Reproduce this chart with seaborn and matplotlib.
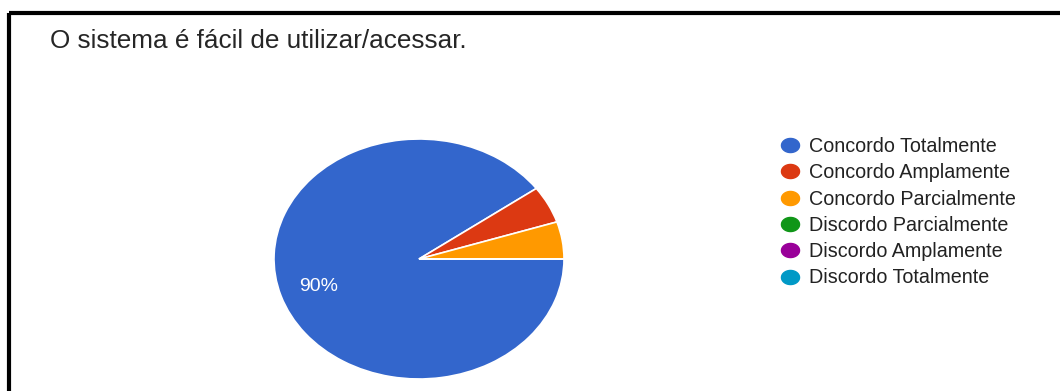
import numpy as np
import matplotlib
matplotlib.use("Agg")
import matplotlib.pyplot as plt
from matplotlib.lines import Line2D
from matplotlib.path import Path
import seaborn as sns

# Survey answers for "O sistema é fácil de utilizar/acessar."
categories = [
    "Concordo Totalmente",
    "Concordo Amplamente",
    "Concordo Parcialmente",
    "Discordo Parcialmente",
    "Discordo Amplamente",
    "Discordo Totalmente",
]
responses = [18, 1, 1, 0, 0, 0]
title = "O sistema é fácil de utilizar/acessar."

sns.set_theme(style="white")
plt.rcParams["font.family"] = ["Liberation Sans", "DejaVu Sans"]

palette = sns.color_palette(["#3366cc", "#dc3912", "#ff9900", "#109618", "#990099", "#0099c6"])

W, H = 1060, 391
fig = plt.figure(figsize=(W / 100, H / 100), dpi=100)
fig.patch.set_facecolor("white")

# Pie, slightly wider than tall
ax = fig.add_axes([274 / W, (H - 379) / H, 290 / W, 240 / H])
wedges, texts, autotexts = ax.pie(
    responses,
    colors=palette,
    startangle=0,
    counterclock=False,
    radius=1.0,
    autopct=lambda p: f"{p:.0f}%" if p > 10 else "",
    pctdistance=0.73,
    wedgeprops=dict(edgecolor="white", linewidth=1.2),
    textprops=dict(color="white", fontsize=14),
)
ax.set_aspect("auto")
ax.set_xlim(-1, 1)
ax.set_ylim(-1, 1)
ax.axis("off")

# Title
fig.text(50 / W, 1 - 48 / H, title, fontsize=18.8, color="#262626", va="baseline", ha="left")

# Legend with oval markers
theta = np.linspace(0, 2 * np.pi, 64)
oval = Path(np.column_stack([np.cos(theta), 0.78 * np.sin(theta)]), closed=True)
handles = [
    Line2D([], [], linestyle="none", marker=oval, markersize=13,
           markerfacecolor=c, markeredgecolor=c)
    for c in palette
]
fig.legend(
    handles, categories,
    loc="upper left",
    bbox_to_anchor=(780 / W, 1 - 137 / H),
    frameon=False,
    fontsize=14.2,
    labelcolor="#222222",
    handlelength=1.0,
    handletextpad=0.45,
    labelspacing=0.37,
    borderpad=0,
    borderaxespad=0,
)

# Frame lines along the top and left edges
fig.add_artist(Line2D([9 / W, 1], [1 - 13 / H, 1 - 13 / H], transform=fig.transFigure,
                      color="black", linewidth=3.0, solid_capstyle="butt"))
fig.add_artist(Line2D([9 / W, 9 / W], [0, 1 - 13 / H], transform=fig.transFigure,
                      color="black", linewidth=3.0, solid_capstyle="butt"))

fig.savefig("out.png", dpi=100, facecolor="white")
